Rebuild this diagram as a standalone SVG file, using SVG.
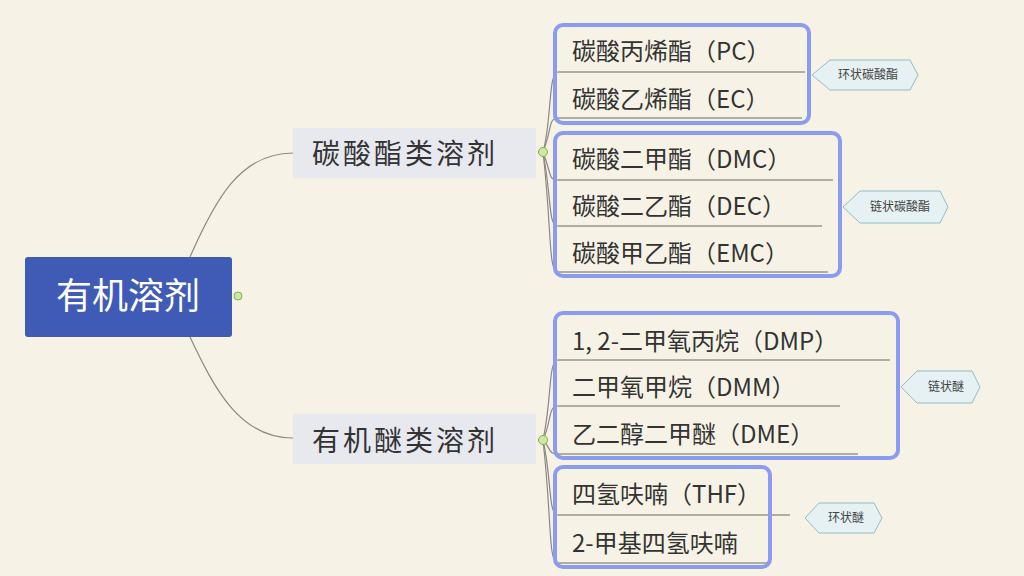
<svg xmlns="http://www.w3.org/2000/svg" width="1024" height="576" viewBox="0 0 1024 576">
<style>
text{font-family:"Noto Sans CJK SC","Noto Sans",sans-serif;fill:#333}
.leaf{font-size:24px}
.ul{stroke:#666;stroke-width:1}
.grp{fill:none;stroke:#8b9cf0;stroke-width:4}
.call{fill:#e6f1f3;stroke:#8fbcc8;stroke-width:1}
.ct{font-size:12px;fill:#444}
.br{fill:#e8e8ef}
.bt{font-size:28px;letter-spacing:3px}
.con path{fill:none;stroke:#8a8a80;stroke-width:1.2}
.tog{fill:#cde8a8;stroke:#7fae4c;stroke-width:1}
</style>
<rect width="1024" height="576" fill="#f6f3e6"/>
<g class="con">
<path d="M190,257 C215,200 240,153 293,153"/>
<path d="M190,337 C215,390 240,438 293,438"/>
<path d="M543,152 C552,120 548,72 558,72"/>
<path d="M543,152 C552,130 548,118 558,118"/>
<path d="M543,152 C552,175 548,180 558,180"/>
<path d="M543,152 C552,200 548,226 558,226"/>
<path d="M543,152 C552,230 548,272 558,272"/>
<path d="M543,440 C552,400 548,360 558,360"/>
<path d="M543,440 C552,420 548,406 558,406"/>
<path d="M543,440 C552,450 548,454 558,454"/>
<path d="M543,440 C552,480 548,515 558,515"/>
<path d="M543,440 C552,520 548,563 558,563"/>
</g>
<g id="root">
<rect x="25" y="257" width="207" height="80" rx="3" fill="#3f5bb5"/>
<text x="128" y="309" font-size="36" text-anchor="middle" style="fill:#fff">有机溶剂</text>
<circle class="tog" cx="238" cy="296" r="4"/>
</g>
<g id="b1">
<rect class="br" x="293" y="128" width="243" height="50"/>
<text class="bt" x="312" y="164">碳酸酯类溶剂</text>
<circle class="tog" cx="543" cy="152" r="4.5"/>
</g>
<g id="b2">
<rect class="br" x="293" y="414" width="243" height="50"/>
<text class="bt" x="312" y="451">有机醚类溶剂</text>
<circle class="tog" cx="543" cy="440" r="4.5"/>
</g>
<g id="pc"><text class="leaf" x="572" y="60">碳酸丙烯酯（PC）</text><line class="ul" x1="558" y1="72" x2="805" y2="72"/></g>
<g id="ec"><text class="leaf" x="572" y="108">碳酸乙烯酯（EC）</text><line class="ul" x1="558" y1="118" x2="802" y2="118"/></g>
<g id="dmc"><text class="leaf" x="572" y="168">碳酸二甲酯（DMC）</text><line class="ul" x1="558" y1="180" x2="833" y2="180"/></g>
<g id="dec"><text class="leaf" x="572" y="215">碳酸二乙酯（DEC）</text><line class="ul" x1="558" y1="226" x2="822" y2="226"/></g>
<g id="emc"><text class="leaf" x="572" y="262">碳酸甲乙酯（EMC）</text><line class="ul" x1="558" y1="272" x2="828" y2="272"/></g>
<g id="dmp"><text class="leaf" x="572" y="350">1, 2-二甲氧丙烷（DMP）</text><line class="ul" x1="558" y1="360" x2="890" y2="360"/></g>
<g id="dmm"><text class="leaf" x="572" y="396">二甲氧甲烷（DMM）</text><line class="ul" x1="558" y1="406" x2="840" y2="406"/></g>
<g id="dme"><text class="leaf" x="572" y="443">乙二醇二甲醚（DME）</text><line class="ul" x1="558" y1="454" x2="858" y2="454"/></g>
<g id="thf"><text class="leaf" x="572" y="503">四氢呋喃（THF）</text><line class="ul" x1="558" y1="515" x2="790" y2="515"/></g>
<g id="mthf"><text class="leaf" x="572" y="552">2-甲基四氢呋喃</text><line class="ul" x1="558" y1="563" x2="770" y2="563"/></g>
<g id="g1"><rect class="grp" x="555" y="25" width="254" height="98" rx="8"/>
<polygon class="call" points="812,75 830,60 910,60 918,75 910,90 830,90"/><text class="ct" x="868" y="79" text-anchor="middle">环状碳酸酯</text></g>
<g id="g2"><rect class="grp" x="555" y="133" width="285" height="143" rx="8"/>
<polygon class="call" points="843,207 860,191 940,191 948,207 940,223 860,223"/><text class="ct" x="900" y="211" text-anchor="middle">链状碳酸酯</text></g>
<g id="g3"><rect class="grp" x="555" y="313" width="343" height="145" rx="8"/>
<polygon class="call" points="901,387 917,371 972,371 980,387 972,403 917,403"/><text class="ct" x="946" y="391" text-anchor="middle">链状醚</text></g>
<g id="g4"><rect class="grp" x="555" y="467" width="215" height="100" rx="8"/>
<polygon class="call" points="805,518 819,503 874,503 882,518 874,533 819,533"/><text class="ct" x="846" y="522" text-anchor="middle">环状醚</text></g>
</svg>
